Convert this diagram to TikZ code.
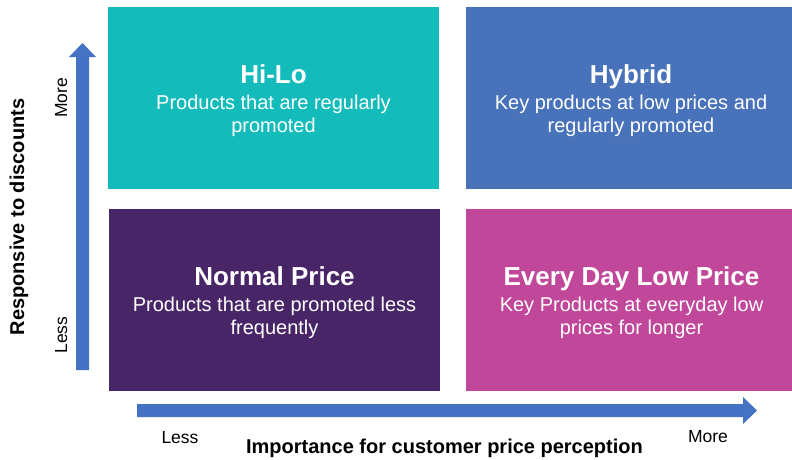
\documentclass[tikz,border=0pt]{standalone}
\usepackage{fontspec}
\setmainfont{Liberation Sans}
\definecolor{cteal}{HTML}{13BBBB}
\definecolor{cblue}{HTML}{4872BA}
\definecolor{cpurple}{HTML}{482567}
\definecolor{cpink}{HTML}{C0479A}
\definecolor{carrow}{HTML}{4472C4}
\tikzset{
  quad/.style={minimum width=331pt, minimum height=182pt, inner sep=0pt, outer sep=0pt, draw=none},
  ttl/.style={anchor=base, text=white, inner sep=0pt, font=\fontsize{26}{28}\selectfont\bfseries},
  dsc/.style={anchor=base, text=white, inner sep=0pt, font=\fontsize{20}{23}\selectfont},
  axl/.style={anchor=base, inner sep=0pt, font=\fontsize{17.5}{20}\selectfont},
  axt/.style={anchor=base, inner sep=0pt, font=\fontsize{20}{23}\selectfont\bfseries},
  axarrow/.style={fill=carrow, draw=none}
}
\begin{document}
\begin{tikzpicture}[x=1pt, y=-1pt]
\useasboundingbox[fill=white] (0,0) rectangle (792,459);
% quadrants
\node[quad, fill=cteal] (hilo) at (273.5,98) {};
\node[quad, fill=cblue] (hybrid) at (631,98) {};
\node[quad, fill=cpurple] (normal) at (274.5,300) {};
\node[quad, fill=cpink] (edlp) at (631.5,300) {};
% texts
\node[ttl] (hilo-t) at (273.5,83) {Hi-Lo};
\node[dsc] (hilo-d) at (273.5,109) {\parbox[t]{320pt}{\centering Products that are regularly\\promoted}};
\node[ttl] (hybrid-t) at (631,83) {Hybrid};
\node[dsc] (hybrid-d) at (631,109) {\parbox[t]{320pt}{\centering Key products at low prices and\\regularly promoted}};
\node[ttl] (normal-t) at (274.5,285) {Normal Price};
\node[dsc] (normal-d) at (274.5,311) {\parbox[t]{320pt}{\centering Products that are promoted less\\frequently}};
\node[ttl] (edlp-t) at (631.5,285) {Every Day Low Price};
\node[dsc] (edlp-d) at (631.5,311) {\parbox[t]{320pt}{\centering Key Products at everyday low\\prices for longer}};
% axis arrows
\fill[axarrow] (76,370) -- (89,370) -- (89,57) -- (96,57) -- (82.5,43) -- (69,57) -- (76,57) -- cycle;
\fill[axarrow] (137,404) -- (743,404) -- (743,397) -- (757,410.5) -- (743,424) -- (743,417) -- (137,417) -- cycle;
% axis labels
\node[axl] (hless) at (180,443) {Less};
\node[axl] (hmore) at (708,442) {More};
\node[axt] (htitle) at (444.5,453) {Importance for customer price perception};
\node[axl, rotate=90] (vmore) at (67,98) {More};
\node[axl, rotate=90] (vless) at (67,335) {Less};
\node[axt, rotate=90] (vtitle) at (24,217) {Responsive to discounts};
\end{tikzpicture}
\end{document}
